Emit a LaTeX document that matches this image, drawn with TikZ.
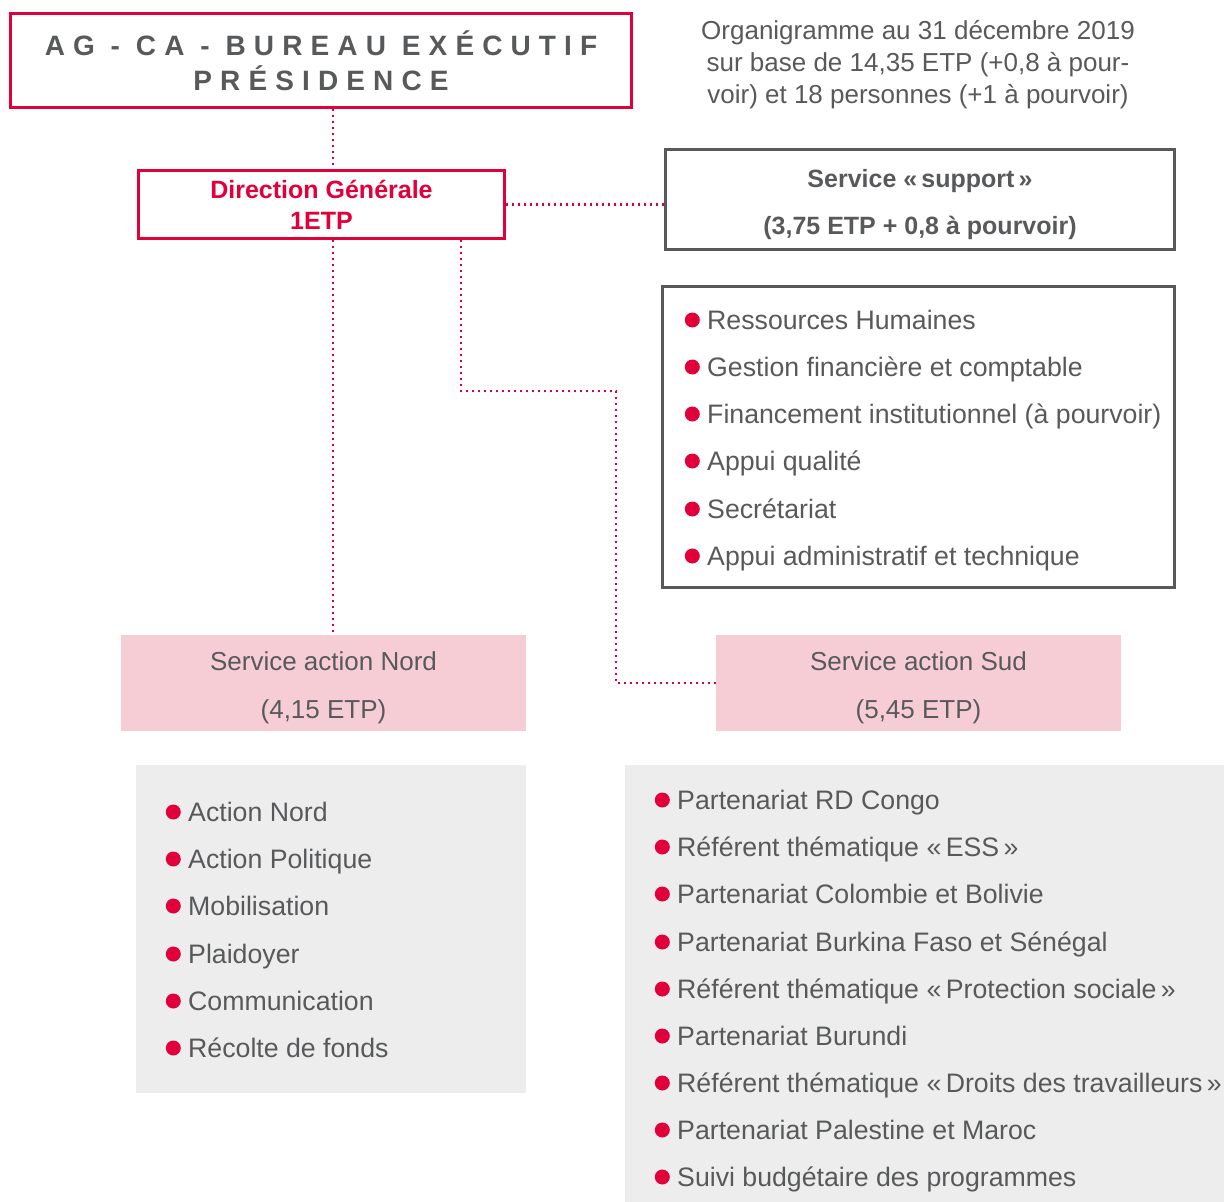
\documentclass[tikz,border=0pt]{standalone}
\usepackage{fontspec}
\setmainfont{Liberation Sans}
\newfontfamily\spacedfont[LetterSpace=29]{Liberation Sans}
\usepackage{xcolor}
\usepackage{tikz}
\usetikzlibrary{positioning}
\definecolor{accent}{RGB}{226,0,59}
\definecolor{textgray}{RGB}{88,89,91}
\definecolor{pinkfill}{RGB}{247,205,213}
\definecolor{listfill}{RGB}{237,237,237}

\begin{document}
\begin{tikzpicture}[x=1pt, y=-1pt,
        redbox/.style={draw=accent, line width=3pt, align=center, inner sep=0pt},
        graybox/.style={draw=textgray, line width=3pt, align=center, inner sep=0pt, text=textgray},
        service/.style={fill=pinkfill, align=center, inner sep=0pt, text=textgray, font=\fontsize{26}{48}\selectfont},
        listbox/.style={fill=listfill, inner sep=0pt},
        puce/.style={circle, fill=accent, inner sep=0pt, text height=0pt, text depth=0pt,
            minimum size=15pt, xshift=-7pt},
        item/.style={anchor=west, inner sep=0pt, text height=19pt, text depth=0pt, text=textgray,
            font=\fontsize{26.7}{30}\selectfont, label={[puce]left:{}}},
        link/.style={accent, line width=2.5pt, dash pattern=on 2pt off 4pt}
    ]
    \useasboundingbox (0,0) rectangle (1224,1202);

    % Direction
    \node[redbox, minimum width=621pt, minimum height=94pt, text=textgray,
        font=\spacedfont\bfseries\fontsize{28}{35}\selectfont] (bureau) at (321,60.5)
        {AG - CA - BUREAU EXÉCUTIF\\PRÉSIDENCE};
    \node[redbox, minimum width=366pt, minimum height=68pt, text=accent,
        font=\bfseries\fontsize{25}{31}\selectfont] (direction) at (321.5,204.5)
        {Direction Générale\\1ETP};
    \node[align=center, text=textgray, font=\fontsize{26}{32}\selectfont] (note) at (918,65)
        {Organigramme au 31 décembre 2019\\sur base de 14,35 ETP (+0,8 à pour-\\voir) et 18 personnes (+1 à pourvoir)};

    % Service support
    \node[graybox, minimum width=509pt, minimum height=100pt] (supportlabel) at (920,199.5) {};
    \node[align=center, text=textgray, font=\bfseries\fontsize{25}{47}\selectfont] (supporttext) at (920,205)
        {Service «\,support\,»\\(3,75 ETP + 0,8 à pourvoir)};
    \node[graybox, minimum width=512pt, minimum height=301pt] (supportlist) at (918.5,437) {};
    \node[item] (R1) at (707,320) {Ressources Humaines};
    \node[item] (R2) at (707,367) {Gestion financière et comptable};
    \node[item] (R3) at (707,414) {Financement institutionnel (à pourvoir)};
    \node[item] (R4) at (707,461) {Appui qualité};
    \node[item] (R5) at (707,509) {Secrétariat};
    \node[item] (R6) at (707,556) {Appui administratif et technique};

    % Services action
    \node[fill=pinkfill, minimum width=405pt, minimum height=96pt] (nordlabel) at (323.5,683) {};
    \node[service] (nordtext) at (323.5,688) {Service action Nord\\(4,15 ETP)};
    \node[fill=pinkfill, minimum width=405pt, minimum height=96pt] (sudlabel) at (918.5,683) {};
    \node[service] (sudtext) at (918.5,688) {Service action Sud\\(5,45 ETP)};

    % Nord
    \node[listbox, minimum width=390pt, minimum height=328pt] (nordlist) at (331,929) {};
    \node[item] (N1) at (188,812) {Action Nord};
    \node[item] (N2) at (188,859) {Action Politique};
    \node[item] (N3) at (188,906) {Mobilisation};
    \node[item] (N4) at (188,954) {Plaidoyer};
    \node[item] (N5) at (188,1001) {Communication};
    \node[item] (N6) at (188,1048) {Récolte de fonds};

    % Sud
    \node[listbox, minimum width=599pt, minimum height=437pt] (sudlist) at (924.5,983.5) {};
    \node[item] (S1) at (677,800) {Partenariat RD Congo};
    \node[item] (S2) at (677,847) {Référent thématique «\,ESS\,»};
    \node[item] (S3) at (677,894) {Partenariat Colombie et Bolivie};
    \node[item] (S4) at (677,942) {Partenariat Burkina Faso et Sénégal};
    \node[item] (S5) at (677,989) {Référent thématique «\,Protection sociale\,»};
    \node[item] (S6) at (677,1036) {Partenariat Burundi};
    \node[item] (S7) at (677,1083) {Référent thématique «\,Droits des travailleurs\,»};
    \node[item] (S8) at (677,1130) {Partenariat Palestine et Maroc};
    \node[item] (S9) at (677,1177) {Suivi budgétaire des programmes};

    % Liaisons
    \coordinate (spine) at (333,0);
    \coordinate (branch) at (461,391);
    \coordinate (bend) at (616,391);
    \draw[link] (bureau.south -| spine) -- (direction.north -| spine);
    \draw[link] (direction.east) -- (direction.east -| supportlabel.west);
    \draw[link] (direction.south -| spine) -- (nordlabel.north -| spine);
    \draw[link] (direction.south -| branch) -- (branch) -- (bend) |- (sudlabel.west);

\end{tikzpicture}
\end{document}
